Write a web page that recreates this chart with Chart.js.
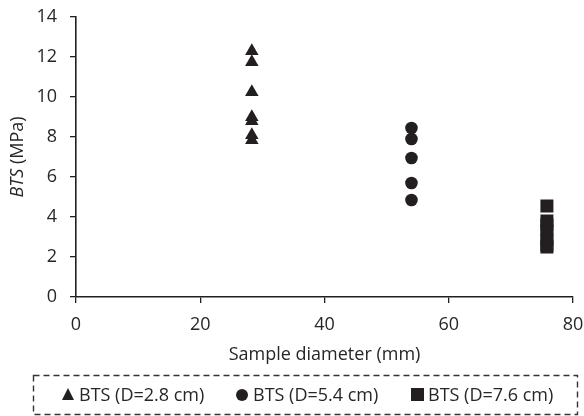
<!DOCTYPE html>
<html lang="en">
<head>
  <meta charset="UTF-8">
  <title>BTS vs sample diameter</title>
  <script src="https://cdn.jsdelivr.net/npm/chart.js"></script>
  <style>
    html, body { margin: 0; padding: 0; background: #fff; overflow: hidden; }
    #wrap { width: 584px; height: 416px; position: relative; }
    #legend {
      position: absolute;
      left: 33px; top: 375px;
      width: 545px; height: 40px;
      font-family: 'Open Sans', sans-serif;
      font-size: 18px;
      color: #262626;
    }
    .item { position: absolute; top: 0; height: 40px; line-height: 40px; white-space: nowrap; }
    .mk { position: absolute; top: 14px; left: 0; }
    .mk.triangle { width: 0; height: 0; border-left: 6px solid transparent; border-right: 6px solid transparent; border-bottom: 12px solid #231f20; top: 13px; }
    .mk.circle { width: 12px; height: 12px; border-radius: 50%; background: #231f20; }
    .mk.rect { width: 13px; height: 13px; background: #231f20; top: 13px; }
    .txt { position: absolute; top: -1px; left: 17px; }
  </style>
</head>
<body>
  <div id="wrap">
    <canvas id="btsChart"></canvas>
    <div id="legend"></div>
  </div>

  <script>
    // sample diameters (mm) and BTS values (MPa)
    const diamSmall = 28.3;
    const btsSmall = [12.3, 11.75, 10.25, 9.0, 8.8, 8.1, 7.85];
    const diamMid = 54.0;
    const btsMid = [8.45, 7.9, 6.95, 5.7, 4.85];
    const diamLarge = 75.8;
    const btsLarge = [4.55, 3.8, 3.6, 3.3, 2.9, 2.6, 2.5];

    const seriesLabels = ['BTS (D=2.8 cm)', 'BTS (D=5.4 cm)', 'BTS (D=7.6 cm)'];
    const seriesMarkers = ['triangle', 'circle', 'rect'];
    const xTicks = [0, 20, 40, 60, 80];
    const yTicks = [0, 2, 4, 6, 8, 10, 12, 14];

    const ink = '#231f20';
    const textCol = '#262626';
    const fontFamily = '"Open Sans", sans-serif';
    const fontSize = 18;

    const toPoints = (x, ys) => ys.map(y => ({ x: x, y: y }));

    // legend entries under the chart
    const legendLeft = [29, 203, 378];
    const legendEl = document.getElementById('legend');
    seriesLabels.forEach((lab, i) => {
      const it = document.createElement('div');
      it.className = 'item';
      it.style.left = legendLeft[i] + 'px';
      it.innerHTML = '<span class="mk ' + seriesMarkers[i] + '"></span><span class="txt">' + lab + '</span>';
      legendEl.appendChild(it);
    });

    // y title with italic "BTS" + plain " (MPa)", and the dashed legend frame
    const extrasPlugin = {
      id: 'extras',
      afterDraw(chart) {
        const ctx = chart.ctx;
        const area = chart.chartArea;
        const cy = (area.top + area.bottom) / 2;
        const it = 'italic ' + fontSize + 'px ' + fontFamily;
        const up = fontSize + 'px ' + fontFamily;
        ctx.save();
        ctx.translate(18, cy);
        ctx.rotate(-Math.PI / 2);
        ctx.fillStyle = textCol;
        ctx.textBaseline = 'middle';
        ctx.textAlign = 'left';
        ctx.font = it;
        const a = 'BTS';
        const wa = ctx.measureText(a).width;
        ctx.font = up;
        const b = ' (MPa)';
        const wb = ctx.measureText(b).width;
        const x0 = -(wa + wb) / 2;
        ctx.font = it;
        ctx.fillText(a, x0, 0);
        ctx.font = up;
        ctx.fillText(b, x0 + wa, 0);
        ctx.restore();

        ctx.save();
        ctx.strokeStyle = '#333';
        ctx.lineWidth = 1.4;
        ctx.setLineDash([6, 4]);
        ctx.strokeRect(33.5, 375.5, 544, 39);
        ctx.restore();
      }
    };

    new Chart(document.getElementById('btsChart'), {
      type: 'scatter',
      data: {
        datasets: [
          {
            label: seriesLabels[0],
            data: toPoints(diamSmall, btsSmall),
            pointStyle: seriesMarkers[0],
            pointRadius: 7.8,
            backgroundColor: ink,
            borderColor: ink,
            borderWidth: 0
          },
          {
            label: seriesLabels[1],
            data: toPoints(diamMid, btsMid),
            pointStyle: seriesMarkers[1],
            pointRadius: 6.3,
            backgroundColor: ink,
            borderColor: ink,
            borderWidth: 0
          },
          {
            label: seriesLabels[2],
            data: toPoints(diamLarge, btsLarge),
            pointStyle: seriesMarkers[2],
            pointRadius: 9.2,
            backgroundColor: ink,
            borderColor: ink,
            borderWidth: 0
          }
        ]
      },
      options: {
        responsive: true,
        maintainAspectRatio: false,
        animation: false,
        layout: { padding: { top: 17, right: 11, left: 0, bottom: 50 } },
        plugins: {
          tooltip: { enabled: false },
          legend: { display: false }
        },
        scales: {
          x: {
            type: 'linear',
            min: 0,
            max: 80,
            afterBuildTicks: axis => { axis.ticks = xTicks.map(v => ({ value: v })); },
            afterFit: axis => {
              axis.height = 69;
              axis.paddingLeft = 0;
              axis.paddingRight = 0;
            },
            grid: { drawOnChartArea: false, drawTicks: true, tickLength: 6, color: ink, lineWidth: 1.3 },
            border: { color: ink, width: 1.6 },
            ticks: { color: textCol, padding: 11, font: { family: fontFamily, size: fontSize } },
            title: {
              display: true,
              text: 'Sample diameter (mm)',
              color: textCol,
              padding: 0,
              font: { family: fontFamily, size: fontSize }
            }
          },
          y: {
            min: 0,
            max: 14,
            afterBuildTicks: axis => { axis.ticks = yTicks.map(v => ({ value: v })); },
            afterFit: axis => {
              axis.width = 76;
              axis.paddingTop = 0;
              axis.paddingBottom = 0;
            },
            grid: { drawOnChartArea: false, drawTicks: true, tickLength: 6, color: ink, lineWidth: 1.3 },
            border: { color: ink, width: 1.6 },
            ticks: { color: textCol, padding: 13, font: { family: fontFamily, size: fontSize } }
          }
        }
      },
      plugins: [extrasPlugin]
    });
  </script>
</body>
</html>
